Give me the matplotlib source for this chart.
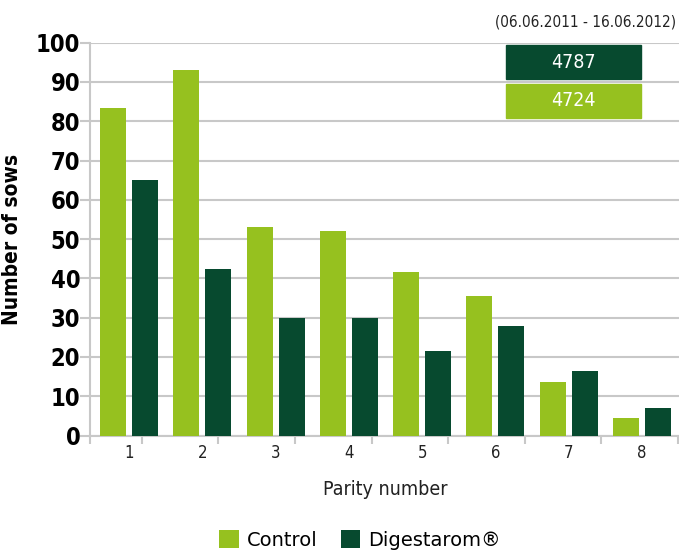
import matplotlib
matplotlib.use("Agg")
import matplotlib.pyplot as plt
import numpy as np
from matplotlib.patches import Rectangle

categories = ["1", "2", "3", "4", "5", "6", "7", "8"]
control = [83.5, 93, 53, 52, 41.5, 35.5, 13.5, 4.5]
digestarom = [65, 42.5, 30, 30, 21.5, 28, 16.5, 7]
totals_labels = ["4787", "4724"]
period = "(06.06.2011 - 16.06.2012)"
yticks = [0, 10, 20, 30, 40, 50, 60, 70, 80, 90, 100]

LIGHT = "#96C11F"
DARK = "#074A2F"
GRID = "#C8C8C8"

plt.rcParams['font.family'] = ['DejaVu Sans']
FW, FH = 679, 553
fig = plt.figure(figsize=(FW / 100, FH / 100), dpi=100)
ax = fig.add_axes([90 / FW, 1 - 435.5 / FH, 590 / FW, (435.5 - 42.7) / FH])

x = np.arange(len(categories))
w = 0.355
off = 0.218
ax.bar(x - off, control, w, color=LIGHT, label="Control", zorder=3)
ax.bar(x + off, digestarom, w, color=DARK, label="Digestarom®", zorder=3)

ax.set_xlim(-0.532, 7.52)
ax.set_ylim(0, 100)
ax.set_yticks(yticks)
ax.set_yticklabels([str(v) for v in yticks], fontsize=17, fontweight='bold',
                   fontstretch='condensed')
ax.yaxis.grid(True, color=GRID, linewidth=1.5, zorder=0)
ax.set_axisbelow(True)

# x ticks: labels at category centers, tick marks at separators
ax.set_xticks(x)
ax.set_xticklabels(categories, fontsize=12, fontstretch='condensed', color='#222222')
ax.tick_params(axis='x', which='major', length=0, pad=6)
sep = [(90 - 129) / 73.25] + [(141.7 - 129) / 73.25 + k * 76.6 / 73.25 for k in range(8)]
ax.set_xticks(sep, minor=True)
ax.tick_params(axis='x', which='minor', length=6, color=GRID, width=1.5)
ax.tick_params(axis='y', length=7, color=GRID, width=1.5, pad=0)

for s in ['top', 'right']:
    ax.spines[s].set_visible(False)
for s in ['left', 'bottom']:
    ax.spines[s].set_color(GRID)
    ax.spines[s].set_linewidth(1.5)

ax.set_ylabel("Number of sows", fontsize=15, fontweight='bold', fontstretch='condensed', labelpad=10)
ax.set_xlabel("Parity number", fontsize=14, fontstretch='condensed', labelpad=13, color='#222222')

# info boxes
boxes = [(45, 79, DARK, totals_labels[0]), (84, 118, LIGHT, totals_labels[1])]
for y0, y1, c, t in boxes:
    fig.patches.append(Rectangle((506 / FW, 1 - y1 / FH), 135 / FW, (y1 - y0) / FH,
                                 transform=fig.transFigure, color=c, zorder=5))
    fig.text((506 + 67.5) / FW, 1 - (y0 + y1) / 2 / FH, t, color='white', fontsize=14,
             ha='center', va='center', fontstretch='condensed', zorder=6)
fig.text(676 / FW, 1 - 22 / FH, period, fontsize=11, ha='right', va='center',
         fontstretch='condensed', color='#222222')

fig.legend(loc='center', bbox_to_anchor=(0.53, 1 - 540 / FH), ncol=2, frameon=False,
           fontsize=14, handlelength=1.0, handleheight=1.0, handletextpad=0.4,
           columnspacing=1.2)

fig.savefig("out.png", dpi=100)
